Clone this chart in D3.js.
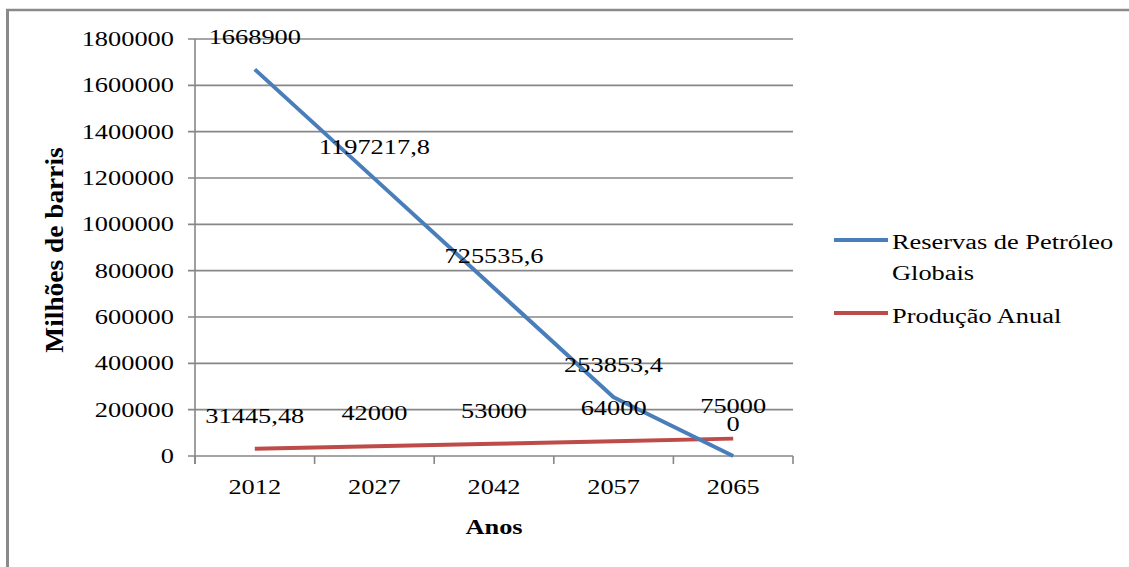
<!DOCTYPE html>
<html>
<head>
<meta charset="utf-8">
<script src="https://cdn.jsdelivr.net/npm/d3@7"></script>
<style>
  html, body { margin: 0; padding: 0; background: #fff; }
  svg { display: block; }
  text { font-family: "Liberation Serif", "Times New Roman", serif; fill: #000; }
</style>
</head>
<body>
<svg id="chart" width="1129" height="567"></svg>
<script>
// Categories (years) and series values
const anos = ["2012", "2027", "2042", "2057", "2065"];
const reservas = [1668900, 1197217.8, 725535.6, 253853.4, 0];
const producao = [31445.48, 42000, 53000, 64000, 75000];
const yTicks = [0, 200000, 400000, 600000, 800000, 1000000, 1200000, 1400000, 1600000, 1800000];
const seriesNames = ["Reservas de Petróleo", "Produção Anual"];

const blue = "#4A7EBB", red = "#BE4B48", grid = "#878787";
const SX = 1.32;          // horizontal glyph stretch of the text
const FS = 20;            // font size

const svg = d3.select("#chart");

// Frame lines
svg.append("line").attr("x1", 6).attr("x2", 1129).attr("y1", 10).attr("y2", 10)
  .attr("stroke", "#8a8a8a").attr("stroke-width", 2.5);
svg.append("line").attr("x1", 7.5).attr("x2", 7.5).attr("y1", 9).attr("y2", 567)
  .attr("stroke", "#8a8a8a").attr("stroke-width", 3);

const plot = { left: 195, right: 793, top: 39, bottom: 456 };

const x = d3.scaleBand().domain(anos).range([plot.left, plot.right]).padding(0);
const y = d3.scaleLinear().domain([0, 1800000]).range([plot.bottom, plot.top]);
const cx = d => x(d) + x.bandwidth() / 2;

// Helper to place horizontally stretched text
function label(g, tx, ty, str, anchor, weight) {
  const t = g.append("g").attr("transform", `translate(${tx},${ty}) scale(${SX},1)`)
    .append("text")
    .attr("text-anchor", anchor || "middle")
    .attr("font-size", FS)
    .text(str);
  if (weight) t.attr("font-weight", weight);
  return t;
}

// Horizontal gridlines
svg.append("g").selectAll("line").data(yTicks).join("line")
  .attr("x1", plot.left - 7).attr("x2", plot.right)
  .attr("y1", d => y(d)).attr("y2", d => y(d))
  .attr("stroke", grid).attr("stroke-width", 1.6);

// Y axis line
svg.append("line").attr("x1", plot.left).attr("x2", plot.left)
  .attr("y1", plot.top).attr("y2", plot.bottom + 8)
  .attr("stroke", grid).attr("stroke-width", 1.6);

// X axis tick marks at category boundaries
const bounds = anos.map(a => x(a)).concat([plot.right]);
svg.append("g").selectAll("line").data(bounds).join("line")
  .attr("x1", d => d).attr("x2", d => d)
  .attr("y1", plot.bottom).attr("y2", plot.bottom + 8)
  .attr("stroke", grid).attr("stroke-width", 1.6);

// Y tick labels
const yl = svg.append("g");
yTicks.forEach(v => label(yl, 174, y(v) + 7, String(v), "end"));

// X tick labels
const xl = svg.append("g");
anos.forEach(a => label(xl, cx(a), 494, a, "middle"));

// Axis titles
label(svg, (plot.left + plot.right) / 2, 534, "Anos", "middle", "bold");
svg.append("g").attr("transform", "translate(63,250) scale(1.3,1.37) rotate(-90)")
  .append("text").attr("text-anchor", "middle").attr("font-size", FS)
  .attr("font-weight", "bold").text("Milhões de barris");

// Lines
const line = d3.line().x((d, i) => cx(anos[i])).y(d => y(d));
svg.append("path").datum(producao).attr("d", line)
  .attr("fill", "none").attr("stroke", red).attr("stroke-width", 4).attr("stroke-linejoin", "round");
svg.append("path").datum(reservas).attr("d", line)
  .attr("fill", "none").attr("stroke", blue).attr("stroke-width", 4).attr("stroke-linejoin", "round");

// Data labels
const fmt = v => String(v).replace(".", ",");
const dl = svg.append("g");
reservas.forEach((v, i) => label(dl, cx(anos[i]), y(v) - 25, fmt(v), "middle"));
producao.forEach((v, i) => label(dl, cx(anos[i]), y(v) - 26, fmt(v), "middle"));

// Legend
const lg = svg.append("g");
lg.append("line").attr("x1", 834).attr("x2", 888).attr("y1", 240).attr("y2", 240)
  .attr("stroke", blue).attr("stroke-width", 4);
label(lg, 892, 249, seriesNames[0], "start");
label(lg, 892, 280, "Globais", "start");
lg.append("line").attr("x1", 834).attr("x2", 888).attr("y1", 313).attr("y2", 313)
  .attr("stroke", red).attr("stroke-width", 4);
label(lg, 892, 323, seriesNames[1], "start");
</script>
</body>
</html>
